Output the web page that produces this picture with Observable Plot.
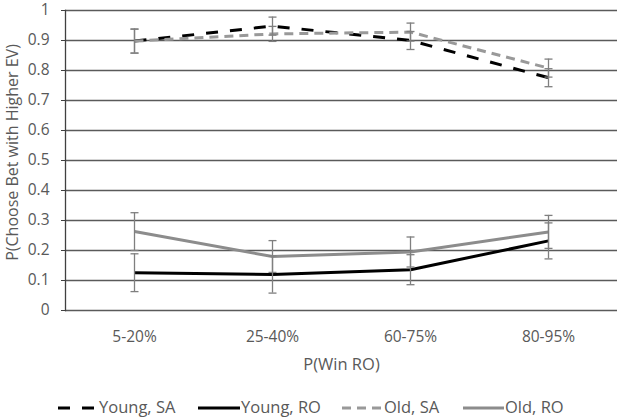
<!DOCTYPE html>
<html>
<head>
<meta charset="utf-8">
<script src="https://cdn.jsdelivr.net/npm/d3@7"></script>
<script src="https://cdn.jsdelivr.net/npm/@observablehq/plot@0.6"></script>
<style>
  html, body { margin: 0; padding: 0; background: #fff; }
  #wrap { position: relative; width: 625px; height: 419px; overflow: hidden; font-family: "Open Sans", sans-serif; }
  #legend { position: absolute; left: 0; top: 380px; width: 625px; height: 39px; }
  .item { position: absolute; top: 0; height: 39px; display: flex; align-items: center; }
  .item span { font-size: 16.5px; color: #595959; line-height: 1; margin-left: 1px; }
</style>
</head>
<body>
<div id="wrap">
  <div id="chart"></div>
  <div id="legend"></div>
</div>
<script>
const categories = ["5-20%", "25-40%", "60-75%", "80-95%"];
const youngSA    = [0.898, 0.948, 0.900, 0.776];
const youngSAErr = [0.040, 0.030, 0.030, 0.030];
const youngRO    = [0.126, 0.120, 0.136, 0.232];
const youngROErr = [0.063, 0.062, 0.050, 0.060];
const oldSA      = [0.898, 0.922, 0.928, 0.808];
const oldSAErr   = [0.040, 0.025, 0.030, 0.030];
const oldRO      = [0.263, 0.180, 0.195, 0.262];
const oldROErr   = [0.063, 0.053, 0.050, 0.055];
const yTicks = [0, 0.1, 0.2, 0.3, 0.4, 0.5, 0.6, 0.7, 0.8, 0.9, 1];
const seriesNames = ["Young, SA", "Young, RO", "Old, SA", "Old, RO"];

const styles = {
  "Young, SA": {stroke: "#000000", dash: "12,12"},
  "Young, RO": {stroke: "#000000", dash: null},
  "Old, SA":   {stroke: "#999999", dash: "9,6"},
  "Old, RO":   {stroke: "#8c8c8c", dash: null}
};
const seriesData = {
  "Young, SA": [youngSA, youngSAErr],
  "Young, RO": [youngRO, youngROErr],
  "Old, SA":   [oldSA, oldSAErr],
  "Old, RO":   [oldRO, oldROErr]
};

const rows = [];
for (const s of seriesNames) {
  const [vals, errs] = seriesData[s];
  vals.forEach((v, i) => rows.push({series: s, cat: categories[i], v, e: errs[i]}));
}

const cap = {
  draw(context, size) {
    const r = Math.sqrt(size / Math.PI);
    context.moveTo(-r, 0);
    context.lineTo(r, 0);
  }
};

const lineMarks = seriesNames.map(s => Plot.line(rows.filter(d => d.series === s), {
  x: "cat", y: "v",
  stroke: styles[s].stroke,
  strokeWidth: 3,
  strokeDasharray: styles[s].dash,
  strokeLinecap: "butt",
  strokeLinejoin: "round"
}));

const chart = Plot.plot({
  width: 625,
  height: 380,
  marginLeft: 65,
  marginRight: 8,
  marginTop: 10,
  marginBottom: 70,
  style: {fontFamily: "Open Sans, sans-serif", fontSize: "15.5px", color: "#595959", background: "white", overflow: "visible"},
  x: {type: "point", domain: categories, padding: 0.5, label: null},
  y: {domain: [0, 1], label: null},
  marks: [
    Plot.gridY(yTicks, {stroke: "#5a5a5a", strokeOpacity: 1, strokeWidth: 1.3}),
    Plot.frame({anchor: "left", stroke: "#404040", strokeWidth: 1.3}),
    Plot.axisY(yTicks, {tickSize: 4, tickPadding: 12, stroke: "#404040", fill: "#595959", label: null, tickFormat: d => String(d)}),
    Plot.axisX({tickSize: 0, tickPadding: 20, label: null, fill: "#595959"}),
    ...lineMarks,
    Plot.ruleX(rows, {x: "cat", y1: d => d.v - d.e, y2: d => d.v + d.e, stroke: "#7f7f7f", strokeWidth: 1.3}),
    Plot.dot(rows, {x: "cat", y: d => d.v - d.e, symbol: cap, r: 4, stroke: "#7f7f7f", strokeWidth: 1.3, fill: "none"}),
    Plot.dot(rows, {x: "cat", y: d => d.v + d.e, symbol: cap, r: 4, stroke: "#7f7f7f", strokeWidth: 1.3, fill: "none"}),
    Plot.text(["P(Choose Bet with Higher EV)"], {frameAnchor: "left", textAnchor: "middle", dx: -53, dy: -8, rotate: -90, fill: "#595959", fontSize: 16}),
    Plot.text(["P(Win RO)"], {frameAnchor: "bottom", dy: 59, fill: "#595959", fontSize: 16.5})
  ]
});
document.getElementById("chart").appendChild(chart);

// Legend
const legendPos = {
  "Young, SA": [58, 40],
  "Young, RO": [198, 42],
  "Old, SA":   [342, 41],
  "Old, RO":   [463, 41]
};
const legend = document.getElementById("legend");
for (const s of seriesNames) {
  const [x, w] = legendPos[s];
  const item = document.createElement("div");
  item.className = "item";
  item.style.left = x + "px";
  item.style.top = "8px";
  item.innerHTML = `<svg width="${w}" height="6" style="display:block"><line x1="0" x2="${w}" y1="3" y2="3" stroke="${styles[s].stroke}" stroke-width="3" ${styles[s].dash ? `stroke-dasharray="${styles[s].dash}"` : ""}/></svg><span>${s}</span>`;
  legend.appendChild(item);
}
</script>
</body>
</html>
